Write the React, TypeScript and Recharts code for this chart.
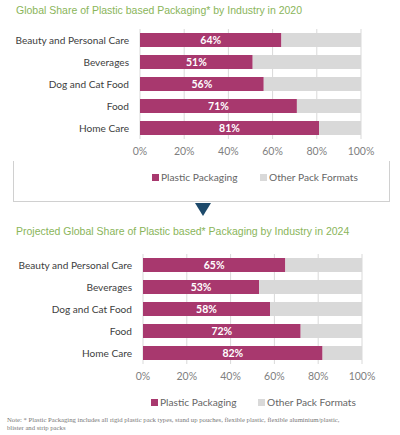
import React from "react";
import { BarChart, Bar, XAxis, YAxis, CartesianGrid, LabelList } from "recharts";

const categories = ["Beauty and Personal Care", "Beverages", "Dog and Cat Food", "Food", "Home Care"];
const plastic2020 = [64, 51, 56, 71, 81];
const other2020 = [36, 49, 44, 29, 19];
const plastic2024 = [65, 53, 58, 72, 82];
const other2024 = [35, 47, 42, 28, 18];
const xTicks = [0, 20, 40, 60, 80, 100];
const seriesNames = ["Plastic Packaging", "Other Pack Formats"];

const PLASTIC = "#a8386e";
const OTHER = "#d9d9d9";
const FONT = "Lato, 'Open Sans', sans-serif";

function buildRows(plastic: number[], other: number[]) {
  var rows: { name: string; plastic: number; other: number }[] = [];
  for (var i = 0; i < categories.length; i++) {
    rows.push({ name: categories[i], plastic: plastic[i], other: other[i] });
  }
  return rows;
}

// plain tick so long names do not wrap
function CategoryTick(props: any) {
  return (
    <text
      x={props.x}
      y={props.y}
      dy="0.35em"
      textAnchor="end"
      fill="#404040"
      fontSize={10.1}
      fontFamily={FONT}
    >
      {props.payload.value}
    </text>
  );
}

function ShareChart(props: { rows: any[]; yWidth: number; right: number }) {
  return (
    <BarChart
      width={400}
      height={200}
      data={props.rows}
      layout="vertical"
      margin={{ top: 29, right: props.right, bottom: 31, left: 0 }}
      barSize={14}
    >
      <CartesianGrid horizontal={false} stroke="#d9d9d9" />
      <XAxis
        type="number"
        domain={[0, 100]}
        ticks={xTicks}
        interval={0}
        tickFormatter={(v: number) => v + "%"}
        axisLine={false}
        tickLine={false}
        tickMargin={3}
        tick={{ fill: "#7f7f7f", fontSize: 10.5, fontFamily: FONT }}
      />
      <YAxis
        type="category"
        dataKey="name"
        width={props.yWidth}
        interval={0}
        axisLine={false}
        tickLine={false}
        tickMargin={5}
        tick={<CategoryTick />}
      />
      <Bar dataKey="plastic" stackId="a" fill={PLASTIC} isAnimationActive={false}>
        <LabelList
          dataKey="plastic"
          position="center"
          formatter={(v: any) => v + "%"}
          fill="#ffffff"
          style={{ fontWeight: 700, fontSize: 10.5, fontFamily: FONT }}
        />
      </Bar>
      <Bar dataKey="other" stackId="a" fill={OTHER} isAnimationActive={false} />
    </BarChart>
  );
}

function LegendRow(props: { top: number; left1: number; left2: number }) {
  const text = { position: "absolute" as const, fontSize: 10.2, color: "#666", lineHeight: "12px", whiteSpace: "nowrap" as const };
  const box = { position: "absolute" as const, width: 7, height: 7 };
  return (
    <>
      <div style={{ ...box, left: props.left1, top: props.top - 3.5, background: PLASTIC }} />
      <div style={{ ...text, left: props.left1 + 9, top: props.top - 6 }}>{seriesNames[0]}</div>
      <div style={{ ...box, left: props.left2, top: props.top - 3.5, background: OTHER }} />
      <div style={{ ...text, left: props.left2 + 9, top: props.top - 6 }}>{seriesNames[1]}</div>
    </>
  );
}

export default function App() {
  const rows2020 = buildRows(plastic2020, other2020);
  const rows2024 = buildRows(plastic2024, other2024);

  return (
    <div style={styles.page}>
      <div style={{ ...styles.title, top: 3 }}>
        Global Share of Plastic based Packaging* by Industry in 2020
      </div>
      <div style={{ position: "absolute", left: 0, top: 0 }}>
        <ShareChart rows={rows2020} yWidth={140} right={39} />
      </div>
      <LegendRow top={177} left1={152} left2={260} />
      <div style={styles.bracket} />
      <svg style={{ position: "absolute", left: 195, top: 203 }} width={16} height={13}>
        <polygon points="0,0 16,0 8,13" fill="#1d4a6b" />
      </svg>

      <div style={{ ...styles.title, top: 224 }}>
        Projected Global Share of Plastic based* Packaging by Industry in 2024
      </div>
      <div style={{ position: "absolute", left: 0, top: 225 }}>
        <ShareChart rows={rows2024} yWidth={143} right={38} />
      </div>
      <LegendRow top={402} left1={151} left2={258} />

      <div style={styles.note}>
        Note: * Plastic Packaging includes all rigid plastic pack types, stand up pouches, flexible plastic, flexible aluminium/plastic,
        <br />
        blister and strip packs
      </div>
    </div>
  );
}

const styles = {
  page: {
    position: "absolute" as const,
    left: 0,
    top: 0,
    width: 400,
    height: 435,
    background: "#ffffff",
    overflow: "hidden",
    fontFamily: FONT,
  },
  title: {
    position: "absolute" as const,
    left: 16,
    fontFamily: "'Liberation Sans', Arial, sans-serif",
    fontSize: 10.5,
    color: "#8ab55a",
    lineHeight: "14px",
    whiteSpace: "nowrap" as const,
  },
  bracket: {
    position: "absolute" as const,
    left: 13,
    top: 161,
    width: 377,
    height: 41,
    border: "1px solid #d0d0d0",
    borderTop: "none",
    boxSizing: "border-box" as const,
  },
  note: {
    position: "absolute" as const,
    left: 7,
    top: 416,
    fontFamily: "'Liberation Serif', 'DejaVu Serif', serif",
    fontSize: 6.7,
    lineHeight: "8.3px",
    color: "#777",
    whiteSpace: "nowrap" as const,
  },
};
